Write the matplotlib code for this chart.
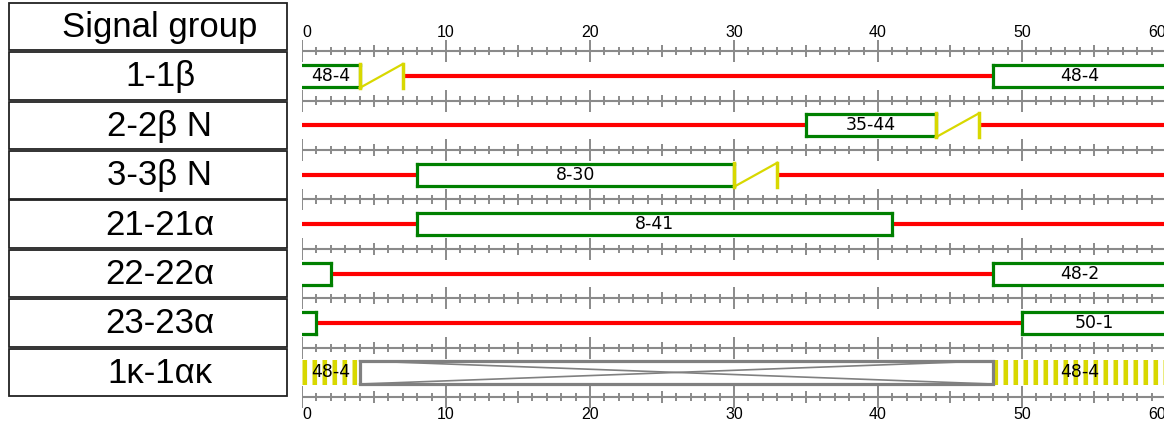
import numpy as np
import matplotlib.pyplot as plt
from matplotlib.patches import Rectangle

plt.rcParams['font.family'] = ['Liberation Sans', 'DejaVu Sans']
plt.rcParams['lines.scale_dashes'] = False

# cycle length (s) and signal groups
cycle = 60
groups = ['1-1β', '2-2β N', '3-3β N', '21-21α', '22-22α', '23-23α', '1κ-1ακ']
header = 'Signal group'
tick_labels = [0, 10, 20, 30, 40, 50, 60]

# (row, start, end, label)
green_bars = [(0, 0, 4, '48-4'), (0, 48, 60, '48-4'),
              (1, 35, 44, '35-44'),
              (2, 8, 30, '8-30'),
              (3, 8, 41, '8-41'),
              (4, 0, 2, ''), (4, 48, 60, '48-2'),
              (5, 0, 1, ''), (5, 50, 60, '50-1')]
# (row, start, end)
amber_bars = [(0, 4, 7), (1, 44, 47), (2, 30, 33)]
red_bars = [(0, 7, 48), (1, 0, 35), (1, 47, 60), (2, 0, 8), (2, 33, 60),
            (3, 0, 8), (3, 41, 60), (4, 2, 48), (5, 1, 50)]
# flashing amber (striped) and the blank box of the last group
striped_bars = [(6, 0, 4, '48-4'), (6, 48, 60, '48-4')]
blank_boxes = [(6, 4, 48)]

GREEN = '#008000'
RED = '#ff0000'
AMBER = '#d8d800'
GREY = '#8a8a8a'
half = 0.223
bar_font = dict(family=['DejaVu Sans'], fontsize=12.5, color='black')

fig = plt.figure(figsize=(11.64, 4.32), dpi=100)
ylim = (7.206, -1.538)

# --- label table on the left ---
tab = fig.add_axes([9 / 1164, 0, 278 / 1164, 1])
tab.set_xlim(0, 1)
tab.set_ylim(*ylim)
tab.axis('off')
for i, name in enumerate([header] + groups):
    r = i - 1
    tab.add_patch(Rectangle((0, r - 0.48), 1, 0.96, facecolor='white',
                            edgecolor='#222222', lw=1.3, clip_on=False))
    tab.text(0.543, r + 0.02, name, ha='center', va='center', fontsize=25,
             color='black')

# --- timing diagram ---
ax = fig.add_axes([302 / 1164, 0, 864 / 1164, 1])
ax.set_xlim(0, cycle)
ax.set_ylim(*ylim)
ax.axis('off')

# tick rulers between the rows
secs = np.arange(0, cycle + 1)
for yt in np.arange(-0.5, len(groups), 1):
    ax.plot([0, cycle], [yt, yt], color=GREY, lw=1.5, solid_capstyle='butt')
    h = np.where(secs % 10 == 0, 0.22, np.where(secs % 5 == 0, 0.12, 0.085))
    ax.vlines(secs, yt - h, yt + h, color=GREY, lw=1.4)

for t in tick_labels:
    ha = 'left' if t == 0 else ('right' if t == cycle else 'center')
    for yl in (-0.89, 6.86):
        ax.text(t, yl, str(t), ha=ha, va='center', fontsize=11.5,
                color='black', clip_on=False)

for r, s, e in red_bars:
    ax.plot([s, e], [r, r], color=RED, lw=3, solid_capstyle='butt', zorder=3)

for r, s, e, lab in green_bars:
    ax.add_patch(Rectangle((s, r - half), e - s, 2 * half, facecolor='white',
                           edgecolor='none', zorder=3))
    kw = dict(color=GREEN, lw=2.3, zorder=4, solid_capstyle='projecting')
    ax.plot([s, e], [r - half, r - half], **kw)
    ax.plot([s, e], [r + half, r + half], **kw)
    if s > 0:
        ax.plot([s, s], [r - half, r + half], **kw)
    if e < cycle:
        ax.plot([e, e], [r - half, r + half], **kw)
    if lab:
        ax.text((s + e) / 2, r, lab, ha='center', va='center', zorder=5,
                **bar_font)

for r, s, e in amber_bars:
    top, bot = r - half - 0.02, r + half + 0.02
    ax.plot([s, s], [bot, top], color=AMBER, lw=2.5, zorder=5)
    ax.plot([e, e], [bot, top], color=AMBER, lw=2.5, zorder=5)
    ax.plot([s, e], [bot, top], color=AMBER, lw=1.6, zorder=5)

for r, s, e, lab in striped_bars:
    ax.plot([s, e], [r, r], color=AMBER, lw=18, dashes=(3.3, 3.9),
            dash_capstyle='butt', zorder=3)
    ax.text((s + e) / 2, r, lab, ha='center', va='center', zorder=5,
            **bar_font)

for r, s, e in blank_boxes:
    hb = 0.235
    ax.add_patch(Rectangle((s, r - hb), e - s, 2 * hb, facecolor='white',
                           edgecolor='#808080', lw=2.3, zorder=4))
    ax.plot([s, e], [r - hb, r + hb], color='#808080', lw=1.2, zorder=4)
    ax.plot([s, e], [r + hb, r - hb], color='#808080', lw=1.2, zorder=4)

fig.savefig('out.png', dpi=100)
